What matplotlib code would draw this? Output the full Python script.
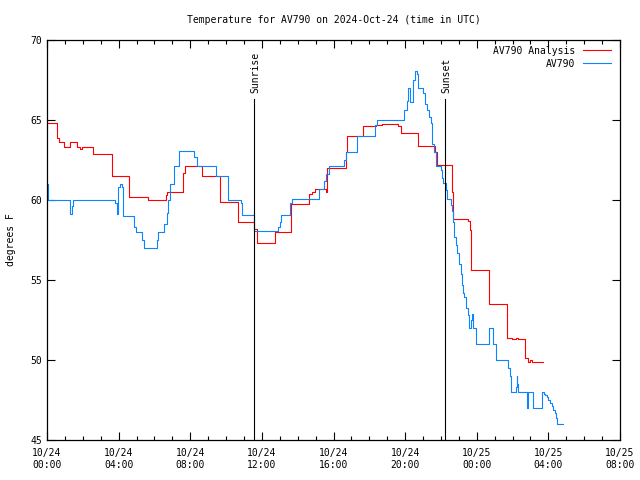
import matplotlib
matplotlib.use("Agg")
import matplotlib.pyplot as plt
from matplotlib.ticker import MultipleLocator, FixedLocator

# hours after 2024-10-24 00:00 UTC, value holds until the next time
analysis_t = [0.0, 0.58, 0.67, 0.97, 1.28, 1.66, 1.84, 1.94, 2.59, 3.61, 4.60,
              5.66, 6.63, 6.72, 7.58, 7.70, 8.64, 9.66, 10.68, 11.58, 11.74,
              12.73, 13.61, 14.65, 14.78, 14.97, 15.58, 15.65, 16.70, 16.74,
              17.66, 18.37, 18.69, 19.62, 19.77, 20.70, 21.67, 21.80, 22.63,
              22.69, 23.49, 23.62, 23.68, 24.70, 25.71, 25.95, 26.19, 26.32,
              26.69, 26.88, 26.97, 27.07, 27.68]
analysis_f = [64.8, 63.9, 63.6, 63.3, 63.6, 63.3, 63.2, 63.3, 62.85, 61.5, 60.2,
              60.0, 60.3, 60.5, 61.7, 62.1, 61.5, 59.9, 58.6, 58.2, 57.3,
              58.0, 59.75, 60.4, 60.5, 60.7, 60.5, 62.0, 63.0, 64.0,
              64.65, 64.7, 64.75, 64.6, 64.2, 63.4, 63.0, 62.2, 60.5,
              58.8, 58.7, 58.1, 55.6, 53.5, 51.4, 51.3, 51.4, 51.3,
              50.1, 49.9, 50.0, 49.9, 49.9]

obs_t = [0.0, 0.06, 1.28, 1.41, 1.47, 3.80, 3.89, 3.98, 4.08, 4.17, 4.26, 4.88,
         4.95, 5.29, 5.39, 6.13, 6.22, 6.55, 6.68, 6.77, 6.87, 7.09, 7.39, 8.21,
         8.36, 9.44, 10.13, 10.82, 10.91, 11.58, 12.92, 13.01, 13.07, 13.57,
         13.67, 15.21, 15.45, 15.57, 15.77, 16.60, 16.70, 17.30, 18.32, 18.41,
         19.95, 20.09, 20.18, 20.27, 20.46, 20.55, 20.65, 20.72, 20.98, 21.11,
         21.24, 21.33, 21.43, 21.52, 21.61, 21.72, 22.00, 22.07, 22.13, 22.28,
         22.36, 22.55, 22.60, 22.66, 22.75, 22.82, 22.91, 23.01, 23.12, 23.19,
         23.25, 23.31, 23.38, 23.49, 23.57, 23.66, 23.72, 23.81, 23.94, 24.68,
         24.90, 25.06, 25.76, 25.86, 25.91, 26.19, 26.23, 26.26, 26.32, 26.79,
         26.88, 27.12, 27.66, 27.75, 27.81, 27.91, 28.00, 28.09, 28.19, 28.28,
         28.37, 28.43, 28.50, 28.80]
obs_f = [61.0, 60.0, 59.1, 59.6, 60.0, 59.8, 59.1, 60.8, 61.0, 60.8, 59.0, 58.3,
         58.0, 57.5, 57.0, 57.5, 58.0, 58.5, 59.2, 60.0, 61.0, 62.1, 63.05, 62.7,
         62.1, 61.5, 60.0, 59.8, 59.05, 58.05, 58.3, 58.65, 59.05, 59.8,
         60.05, 60.7, 61.2, 61.6, 62.1, 62.5, 63.0, 64.0, 64.7, 65.0,
         65.6, 66.2, 67.0, 66.1, 67.5, 68.05, 67.9, 67.0, 66.7, 66.0,
         65.6, 65.2, 64.8, 63.5, 63.0, 62.1, 61.9, 61.35, 61.05, 60.6,
         60.05, 59.7, 59.3, 58.65, 57.7, 57.2, 56.7, 56.0, 55.4, 54.7,
         54.2, 53.95, 53.25, 52.8, 52.0, 52.5, 52.9, 52.0, 51.0, 52.0,
         51.0, 50.0, 49.5, 49.0, 48.0, 48.3, 49.0, 48.5, 48.0, 47.0,
         48.0, 47.0, 48.0, 47.9, 47.8, 47.7, 47.5, 47.3, 47.1, 46.9,
         46.7, 46.35, 46.0, 46.0]

sunrise = 11.58
sunset = 22.24
tick_hours = [0, 4, 8, 12, 16, 20, 24, 28, 32]
tick_labels = ["10/24\n00:00", "10/24\n04:00", "10/24\n08:00", "10/24\n12:00",
               "10/24\n16:00", "10/24\n20:00", "10/25\n00:00", "10/25\n04:00",
               "10/25\n08:00"]

plt.rcParams["font.family"] = "DejaVu Sans Mono"
plt.rcParams["font.size"] = 7

fig = plt.figure(figsize=(6.4, 4.8), dpi=100)
ax = fig.add_axes([47 / 640, 40 / 480, 573 / 640, 400 / 480])

ax.step(analysis_t, analysis_f, where="post", color="#ff0000", lw=0.8,
        label="AV790 Analysis")
ax.step(obs_t, obs_f, where="post", color="#0a84ff", lw=0.8, label="AV790")

for t, name in [(sunrise, "Sunrise"), (sunset, "Sunset")]:
    ax.plot([t, t], [45, 66.3], color="black", lw=0.8)
    ax.text(t + 0.08, 66.7, name, rotation=90, ha="center", va="bottom")

ax.set_xlim(0, 32)
ax.set_ylim(45, 70)
ax.xaxis.set_major_locator(FixedLocator(tick_hours))
ax.set_xticklabels(tick_labels)
ax.xaxis.set_minor_locator(MultipleLocator(1))
ax.yaxis.set_major_locator(MultipleLocator(5))
ax.tick_params(which="both", direction="in", top=True, right=True, width=0.8,
               colors="black")
ax.tick_params(which="major", length=6)
ax.tick_params(which="minor", length=3)
ax.tick_params(axis="x", pad=6)
for s in ax.spines.values():
    s.set_linewidth(0.9)

ax.set_ylabel("degrees F", labelpad=10)
ax.set_title("Temperature for AV790 on 2024-Oct-24 (time in UTC)",
             fontsize=7, pad=12)
ax.legend(loc="upper right", frameon=False, markerfirst=False,
          handlelength=2.9, handletextpad=0.8, labelspacing=0.3,
          borderaxespad=0.2, bbox_to_anchor=(0.995, 1.0))

fig.savefig("out.png", dpi=100)
